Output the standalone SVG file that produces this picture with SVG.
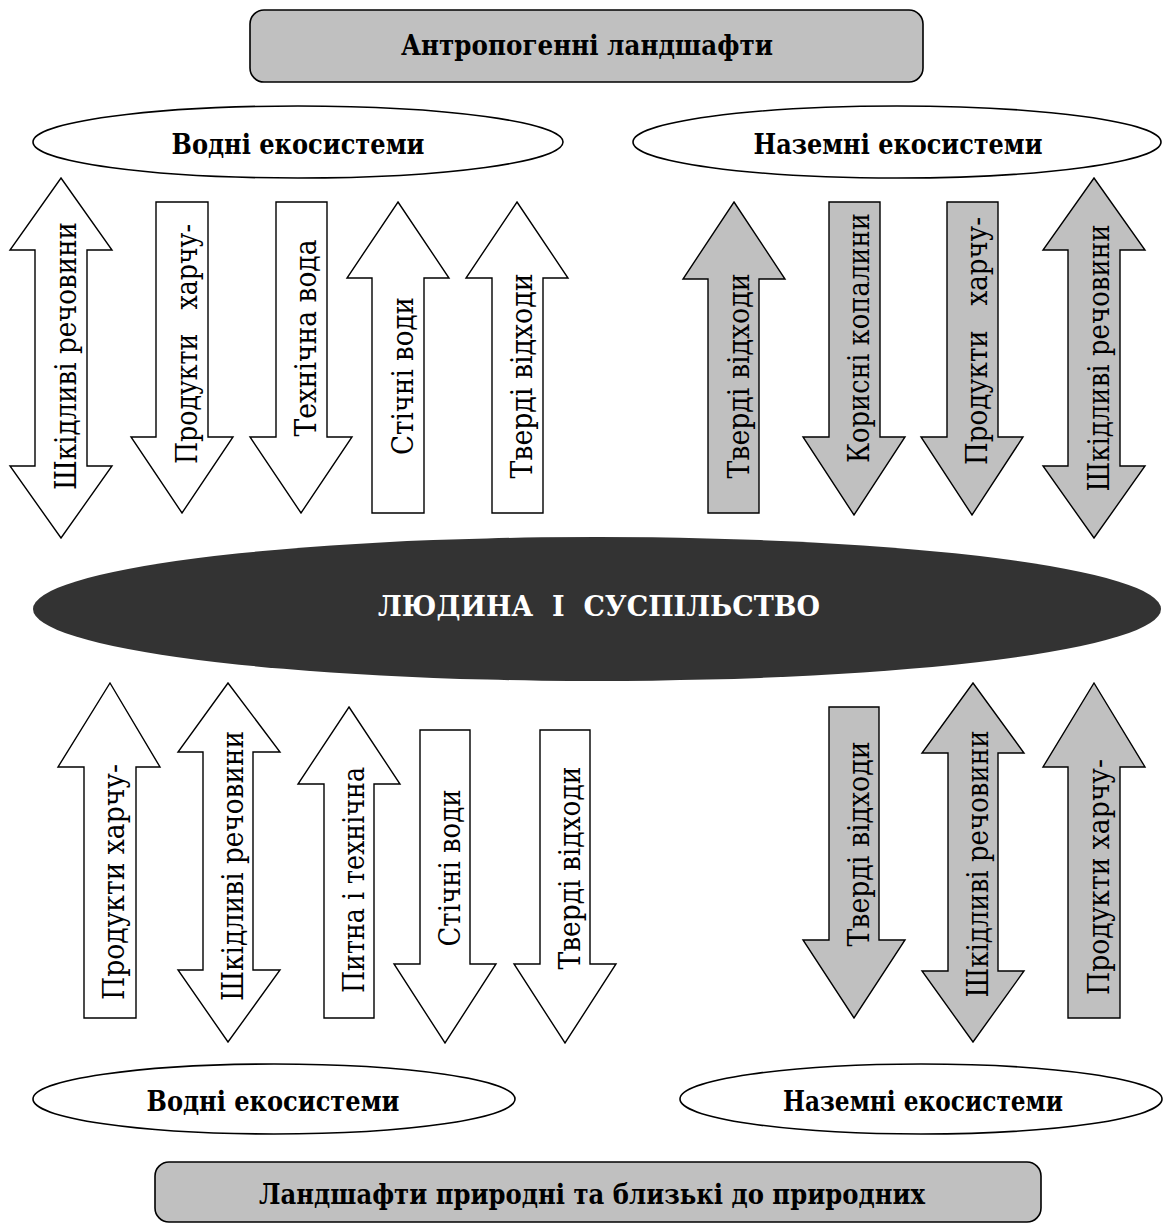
<svg xmlns="http://www.w3.org/2000/svg" width="1163" height="1230" viewBox="0 0 1163 1230">
<style>
.box{fill:#c0c0c0;stroke:#000;stroke-width:1.6}
.ell{fill:#fff;stroke:#000;stroke-width:1.6}
.aw{fill:#fff;stroke:#000;stroke-width:1.4;stroke-linejoin:miter}
.ag{fill:#c0c0c0;stroke:#000;stroke-width:1.4;stroke-linejoin:miter}
.tb{font-family:'DejaVu Serif','Liberation Serif',serif;font-size:28px;font-weight:bold;text-anchor:middle;fill:#000}
.tv{font-family:'DejaVu Serif','Liberation Serif',serif;font-size:29px;text-anchor:middle;fill:#000}
</style>
<rect width="1163" height="1230" fill="#fff"/>
<g id="anthropogenic">
<rect class="box" x="250" y="10" width="673" height="72" rx="14"/>
<text class="tb" x="587" y="55" textLength="372" lengthAdjust="spacingAndGlyphs">Антропогенні ландшафти</text>
</g>
<g id="water-top">
<ellipse class="ell" cx="298" cy="142" rx="265" ry="36"/>
<text class="tb" x="298" y="154" textLength="253" lengthAdjust="spacingAndGlyphs">Водні екосистеми</text>
</g>
<g id="land-top">
<ellipse class="ell" cx="897" cy="142" rx="264" ry="36"/>
<text class="tb" x="898" y="154" textLength="289" lengthAdjust="spacingAndGlyphs">Наземні екосистеми</text>
</g>
<g id="society">
<ellipse cx="597" cy="609" rx="564" ry="72" fill="#333"/>
<text class="tb" x="599" y="616" style="fill:#fff" xml:space="preserve" textLength="442" lengthAdjust="spacingAndGlyphs">ЛЮДИНА  І  СУСПІЛЬСТВО</text>
</g>
<g id="water-bottom">
<ellipse class="ell" cx="274" cy="1099" rx="241" ry="35"/>
<text class="tb" x="273" y="1111" textLength="253" lengthAdjust="spacingAndGlyphs">Водні екосистеми</text>
</g>
<g id="land-bottom">
<ellipse class="ell" cx="921" cy="1099" rx="241" ry="35"/>
<text class="tb" x="923" y="1111" textLength="280" lengthAdjust="spacingAndGlyphs">Наземні екосистеми</text>
</g>
<g id="natural">
<rect class="box" x="155" y="1162" width="886" height="60" rx="14"/>
<text class="tb" x="592" y="1204" textLength="666" lengthAdjust="spacingAndGlyphs">Ландшафти природні та близькі до природних</text>
</g>

<g id="connectors">
<g id="a1">
<polygon class="aw" points="61,178 112,250 87,250 87,466 112,466 61,538 10,466 35,466 35,250 10,250"/>
<text class="tv" transform="translate(76,356) rotate(-90)" textLength="268" lengthAdjust="spacingAndGlyphs">Шкідливі речовини</text>
</g>
<g id="a2">
<polygon class="aw" points="156,202 208,202 208,437 233,437 182,513 131,437 156,437"/>
<text class="tv" transform="translate(197,344) rotate(-90)" xml:space="preserve" textLength="240" lengthAdjust="spacingAndGlyphs">Продукти   харчу-</text>
</g>
<g id="a3">
<polygon class="aw" points="276,202 327,202 327,437 352,437 301,513 250,437 276,437"/>
<text class="tv" transform="translate(316,338) rotate(-90)" textLength="197" lengthAdjust="spacingAndGlyphs">Технічна вода</text>
</g>
<g id="a4">
<polygon class="aw" points="398,202 449,278 424,278 424,513 372,513 372,278 347,278"/>
<text class="tv" transform="translate(413,376) rotate(-90)" textLength="158" lengthAdjust="spacingAndGlyphs">Стічні води</text>
</g>
<g id="a5">
<polygon class="aw" points="517,202 568,278 543,278 543,513 492,513 492,278 466,278"/>
<text class="tv" transform="translate(532,376) rotate(-90)" textLength="205" lengthAdjust="spacingAndGlyphs">Тверді відходи</text>
</g>
<g id="a6">
<polygon class="ag" points="734,202 785,279 759,279 759,513 708,513 708,279 683,279"/>
<text class="tv" transform="translate(749,376) rotate(-90)" textLength="205" lengthAdjust="spacingAndGlyphs">Тверді відходи</text>
</g>
<g id="a7">
<polygon class="ag" points="829,202 880,202 880,437 905,437 854,515 803,437 829,437"/>
<text class="tv" transform="translate(869,338) rotate(-90)" textLength="250" lengthAdjust="spacingAndGlyphs">Корисні копалини</text>
</g>
<g id="a8">
<polygon class="ag" points="947,202 998,202 998,437 1023,437 972,515 921,437 947,437"/>
<text class="tv" transform="translate(987,341) rotate(-90)" xml:space="preserve" textLength="248" lengthAdjust="spacingAndGlyphs">Продукти   харчу-</text>
</g>
<g id="a9">
<polygon class="ag" points="1094,178 1145,250 1120,250 1120,466 1145,466 1094,538 1043,466 1068,466 1068,250 1043,250"/>
<text class="tv" transform="translate(1109,358) rotate(-90)" textLength="267" lengthAdjust="spacingAndGlyphs">Шкідливі речовини</text>
</g>
<g id="b1">
<polygon class="aw" points="110,683 160,767 136,767 136,1018 84,1018 84,767 58,767"/>
<text class="tv" transform="translate(124,882) rotate(-90)" textLength="236" lengthAdjust="spacingAndGlyphs">Продукти харчу-</text>
</g>
<g id="b2">
<polygon class="aw" points="228,683 280,752 253,752 253,970 280,970 228,1042 178,970 203,970 203,752 178,752"/>
<text class="tv" transform="translate(243,866) rotate(-90)" textLength="270" lengthAdjust="spacingAndGlyphs">Шкідливі речовини</text>
</g>
<g id="b3">
<polygon class="aw" points="349,707 400,784 374,784 374,1018 324,1018 324,784 298,784"/>
<text class="tv" transform="translate(364,880) rotate(-90)" textLength="226" lengthAdjust="spacingAndGlyphs">Питна і технічна</text>
</g>
<g id="b4">
<polygon class="aw" points="420,730 470,730 470,964 496,964 445,1043 394,964 420,964"/>
<text class="tv" transform="translate(460,868) rotate(-90)" textLength="157" lengthAdjust="spacingAndGlyphs">Стічні води</text>
</g>
<g id="b5">
<polygon class="aw" points="540,730 590,730 590,964 616,964 565,1043 514,964 540,964"/>
<text class="tv" transform="translate(580,868) rotate(-90)" textLength="203" lengthAdjust="spacingAndGlyphs">Тверді відходи</text>
</g>
<g id="b6">
<polygon class="ag" points="829,707 879,707 879,940 905,940 854,1018 803,940 829,940"/>
<text class="tv" transform="translate(869,844) rotate(-90)" textLength="205" lengthAdjust="spacingAndGlyphs">Тверді відходи</text>
</g>
<g id="b7">
<polygon class="ag" points="973,683 1024,753 998,753 998,971 1024,971 973,1042 922,971 948,971 948,753 922,753"/>
<text class="tv" transform="translate(988,864) rotate(-90)" textLength="267" lengthAdjust="spacingAndGlyphs">Шкідливі речовини</text>
</g>
<g id="b8">
<polygon class="ag" points="1094,683 1145,767 1120,767 1120,1018 1068,1018 1068,767 1043,767"/>
<text class="tv" transform="translate(1109,877) rotate(-90)" textLength="236" lengthAdjust="spacingAndGlyphs">Продукти харчу-</text>
</g>
</g>
</svg>
